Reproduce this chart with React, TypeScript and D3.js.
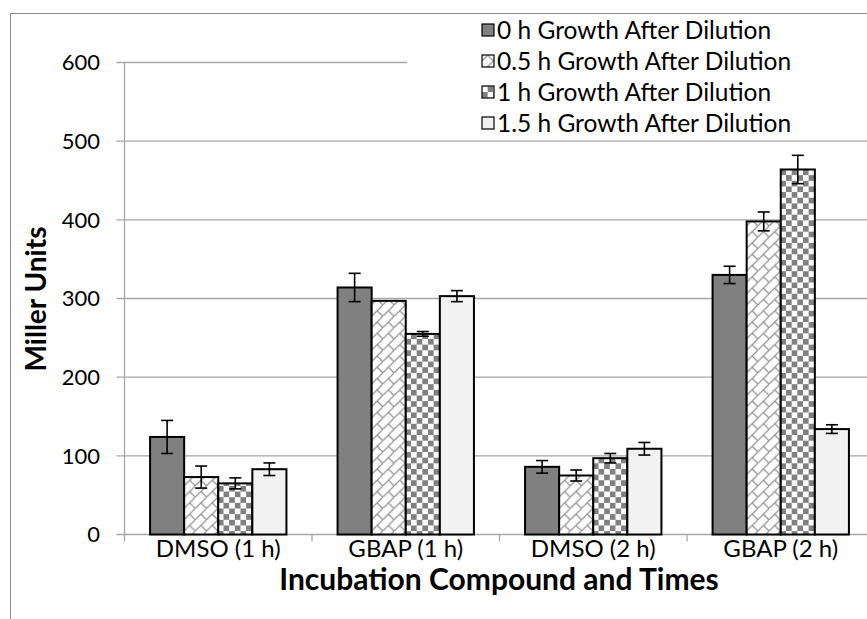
import React from "react";
import * as d3 from "d3";

// Categories on the x axis
const categories = ["DMSO (1 h)", "GBAP (1 h)", "DMSO (2 h)", "GBAP (2 h)"];

// Series (growth time after dilution)
const seriesNames = [
  "0 h Growth After Dilution",
  "0.5 h Growth After Dilution",
  "1 h Growth After Dilution",
  "1.5 h Growth After Dilution",
];

// Mean Miller units per series, one value per category
const growth0h = [124, 314, 86, 330];
const growth05h = [73, 297, 75, 398];
const growth1h = [65, 255, 97, 464];
const growth15h = [83, 303, 109, 134];

// Error bar half-widths per series
const err0h = [21, 18, 8, 11];
const err05h = [14, 0, 7, 12];
const err1h = [7, 3, 6, 18];
const err15h = [8, 7, 8, 5.5];

const yTicks = [0, 100, 200, 300, 400, 500, 600];

const values = [growth0h, growth05h, growth1h, growth15h];
const errors = [err0h, err05h, err1h, err15h];
const fills = ["#808080", "url(#diagBrick)", "url(#checker)", "#f2f2f2"];

const W = 867;
const H = 619;
const left = 124.5;
const right = 874.5;
const bottom = 534.5;
const top = 62.5;
const FONT = "Lato, 'Open Sans', sans-serif";

export default function App() {
  const gap = 1.5 / 5.5;
  const x = d3
    .scaleBand<string>()
    .domain(categories)
    .range([left, right])
    .paddingInner(gap)
    .paddingOuter(gap / 2);
  const xs = d3
    .scaleBand<string>()
    .domain(seriesNames)
    .range([0, x.bandwidth()]);
  const y = d3.scaleLinear().domain([0, 600]).range([bottom, top]);

  const step = x.step();
  const boundaries = d3.range(categories.length + 1).map((i) => left + i * step);

  const legendX = 482;
  const legendY0 = 30;
  const legendDy = 31;

  return (
    <div style={{ position: "fixed", left: 0, top: 0 }}>
      <svg width={W} height={H} style={{ display: "block", background: "#fff" }}>
        <defs>
          <pattern id="checker" width={11.3} height={11.3} patternUnits="userSpaceOnUse">
            <rect width={11.3} height={11.3} fill="#fff" />
            <rect width={5.65} height={5.65} fill="#808080" />
            <rect x={5.65} y={5.65} width={5.65} height={5.65} fill="#808080" />
          </pattern>
          <pattern id="diagBrick" width={11.3} height={11.3} patternUnits="userSpaceOnUse">
            <rect width={11.3} height={11.3} fill="#fff" />
            <path
              d="M-1,12.3 L12.3,-1 M5.65,5.65 L11.3,11.3"
              stroke="#909090"
              strokeWidth={1.2}
              fill="none"
            />
          </pattern>
        </defs>

        {/* outer chart border */}
        <rect x={10.5} y={13.5} width={1000} height={1000} fill="none" stroke="#8a8a8a" strokeWidth={1} />

        {/* gridlines */}
        {yTicks.map((t) => (
          <line
            key={"g" + t}
            x1={left - 8}
            x2={right}
            y1={y(t)}
            y2={y(t)}
            stroke="#a6a6a6"
            strokeWidth={1.3}
          />
        ))}

        {/* y axis */}
        <line x1={left} x2={left} y1={top} y2={bottom + 7} stroke="#a6a6a6" strokeWidth={1.3} />
        {yTicks.map((t) => (
          <text
            key={"yt" + t}
            x={100}
            y={y(t)}
            dy="0.36em"
            textAnchor="end"
            fontFamily={FONT}
            fontSize={22}
            fill="#000"
          >
            {t}
          </text>
        ))}

        {/* category separator ticks */}
        {boundaries.slice(1).map((b, i) => (
          <line key={"sep" + i} x1={b} x2={b} y1={bottom} y2={bottom + 7} stroke="#a6a6a6" strokeWidth={1.3} />
        ))}

        {/* bars */}
        {categories.map((c, ci) => (
          <g key={c} transform={`translate(${x(c)},0)`}>
            {seriesNames.map((s, si) => {
              const v = values[si][ci];
              return (
                <rect
                  key={s}
                  x={xs(s)}
                  y={y(v)}
                  width={xs.bandwidth()}
                  height={bottom - y(v)}
                  fill={fills[si]}
                  stroke="#000"
                  strokeWidth={2}
                />
              );
            })}
            {seriesNames.map((s, si) => {
              const v = values[si][ci];
              const e = errors[si][ci];
              if (!e) return null;
              const cx = (xs(s) as number) + xs.bandwidth() / 2;
              return (
                <g key={"e" + s} stroke="#000" strokeWidth={1.6}>
                  <line x1={cx} x2={cx} y1={y(v + e)} y2={y(v - e)} />
                  <line x1={cx - 6} x2={cx + 6} y1={y(v + e)} y2={y(v + e)} />
                  <line x1={cx - 6} x2={cx + 6} y1={y(v - e)} y2={y(v - e)} />
                </g>
              );
            })}
          </g>
        ))}

        {/* category labels */}
        {categories.map((c) => (
          <text
            key={"cl" + c}
            x={(x(c) as number) + x.bandwidth() / 2}
            y={548}
            dy="0.36em"
            textAnchor="middle"
            fontFamily={FONT}
            fontSize={24}
          >
            {c}
          </text>
        ))}

        {/* axis titles */}
        <text
          x={499}
          y={579}
          dy="0.36em"
          textAnchor="middle"
          fontFamily={FONT}
          fontWeight="bold"
          fontSize={30}
        >
          Incubation Compound and Times
        </text>
        <text
          transform="translate(36,299) rotate(-90)"
          dy="0.36em"
          textAnchor="middle"
          fontFamily={FONT}
          fontWeight="bold"
          fontSize={28}
        >
          Miller Units
        </text>

        {/* legend */}
        <rect x={407} y={15} width={470} height={122} fill="#fff" />
        {seriesNames.map((s, si) => (
          <g key={"lg" + s} transform={`translate(${legendX},${legendY0 + si * legendDy})`}>
            <rect x={0} y={-6} width={12} height={12} fill={fills[si]} stroke="#000" strokeWidth={1.2} />
            <text x={15} y={0} dy="0.36em" fontFamily={FONT} fontSize={24.5}>
              {s}
            </text>
          </g>
        ))}
      </svg>
    </div>
  );
}
